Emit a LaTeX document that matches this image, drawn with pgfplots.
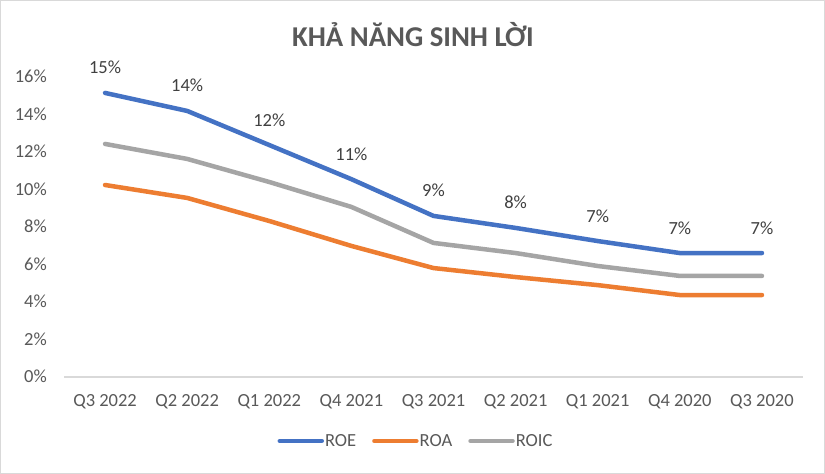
\documentclass[border=0pt]{standalone}
\usepackage{pgfplots}
\pgfplotsset{compat=1.18}
\usepackage{fontspec}
\setmainfont{Carlito}
\definecolor{cROE}{HTML}{4472C4}
\definecolor{cROA}{HTML}{ED7D31}
\definecolor{cROIC}{HTML}{A5A5A5}
\definecolor{txt}{HTML}{595959}
\definecolor{lbl}{HTML}{404040}
\definecolor{axgray}{HTML}{D9D9D9}
\newcommand{\tickfont}{\fontsize{18.5bp}{22bp}\selectfont}
\begin{document}
\begin{tikzpicture}[x=1bp,y=1bp]
\useasboundingbox (0,0) rectangle (825,474);
\fill[white] (0,0) rectangle (825,474);
\draw[axgray, line width=1.2bp] (0.6,0.6) rectangle (824.4,473.4);
\node[text=txt, font=\fontsize{28.7bp}{34bp}\selectfont\bfseries, anchor=center] at (413,439) {KHẢ NĂNG SINH LỜI};
\begin{axis}[
  at={(64bp,97bp)}, anchor=south west,
  scale only axis, width=739bp, height=300bp,
  xmin=-0.5, xmax=8.5, ymin=0, ymax=16,
  clip=false,
  /pgf/number format/assume math mode=true,
  axis x line*=bottom, axis y line*=left,
  x axis line style={-, draw=axgray, line width=1.2bp},
  y axis line style={draw=none},
  major tick length=0pt,
  xtick={0,1,2,3,4,5,6,7,8},
  xticklabels={Q3 2022,Q2 2022,Q1 2022,Q4 2021,Q3 2021,Q2 2021,Q1 2021,Q4 2020,Q3 2020},
  ytick={0,2,4,6,8,10,12,14,16},
  yticklabels={0\%,2\%,4\%,6\%,8\%,10\%,12\%,14\%,16\%},
  xticklabel style={font=\tickfont, text=txt, anchor=base, inner sep=0pt, yshift=-30bp},
  yticklabel style={font=\tickfont, text=txt, anchor=base east, inner sep=0pt, xshift=-17bp, yshift=-6bp},
  every axis plot/.append style={line width=4.5bp, line join=round, line cap=round},
  legend columns=-1,
  legend style={at={(0.4756,-0.2133)}, anchor=center, draw=none, fill=none,
    font=\tickfont, text=txt, inner sep=0pt,
    nodes={inner sep=1bp},
    /tikz/every even column/.append style={column sep=15bp}},
  legend image code/.code={\draw[#1, line cap=round] (0bp,0bp) -- (42bp,0bp);},
]
\addplot[color=cROE, mark=none,
  nodes near coords={\pgfmathprintnumber[fixed,precision=0]{\pgfplotspointmeta}\%},
  every node near coord/.append style={font=\tickfont, text=lbl, anchor=base, yshift=19bp}]
  coordinates {(0,15.15) (1,14.19) (2,12.37) (3,10.55) (4,8.59) (5,7.95) (6,7.25) (7,6.61) (8,6.61)};
\addlegendentry{ROE}
\addplot[color=cROA, mark=none]
  coordinates {(0,10.24) (1,9.55) (2,8.32) (3,6.99) (4,5.81) (5,5.33) (6,4.90) (7,4.37) (8,4.37)};
\addlegendentry{ROA}
\addplot[color=cROIC, mark=none]
  coordinates {(0,12.43) (1,11.63) (2,10.40) (3,9.07) (4,7.15) (5,6.61) (6,5.92) (7,5.39) (8,5.39)};
\addlegendentry{ROIC}
\end{axis}
\end{tikzpicture}
\end{document}
